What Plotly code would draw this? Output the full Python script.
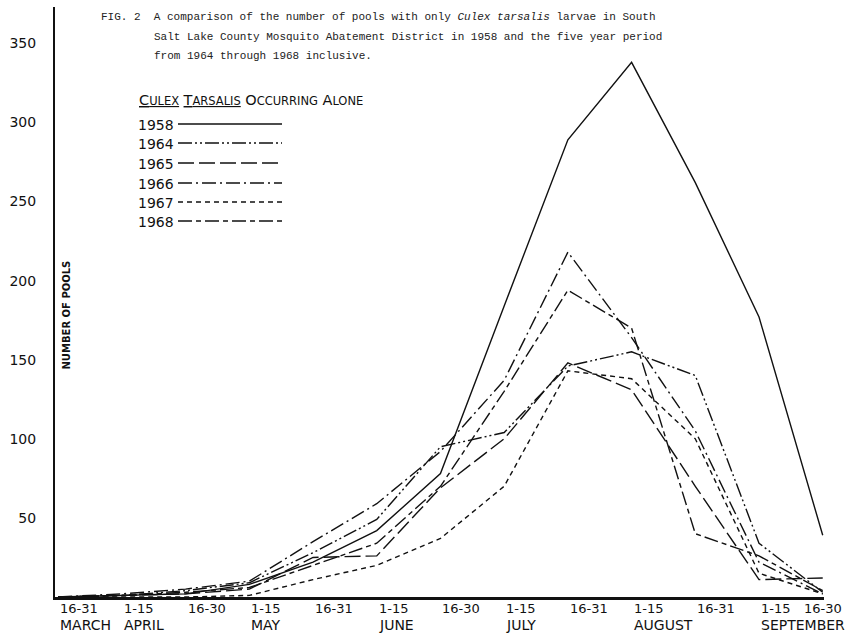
import plotly.graph_objects as go

# ---------------- data ----------------
periods = ["16-31", "1-15", "16-30", "1-15", "16-31", "1-15", "16-30",
           "1-15", "16-31", "1-15", "16-31", "1-15", "16-30"]
months = ["MARCH", "APRIL", "MAY", "JUNE", "JULY", "AUGUST", "SEPTEMBER"]
month_start_period = [0, 1, 3, 5, 7, 9, 11]

y_tick_values = [50, 100, 150, 200, 250, 300, 350]
y_tick_labels = ["50", "100", "150", "200", "250", "300", "350"]

years = ["1958", "1964", "1965", "1966", "1967", "1968"]
pools_1958 = [0, 1, 2, 8, 22, 42, 78, 184, 289, 338, 262, 177, 39]
pools_1964 = [0, 1, 4, 9, 28, 49, 95, 104, 146, 155, 140, 34, 3]
pools_1965 = [0, 1, 2, 5, 25, 26, 69, 100, 148, 131, 70, 11, 12]
pools_1966 = [0, 2, 5, 10, 35, 59, 92, 137, 218, 164, 105, 22, 2]
pools_1967 = [0, 0, 0, 1, 11, 20, 37, 70, 143, 138, 100, 15, 2]
pools_1968 = [0, 1, 3, 6, 20, 34, 70, 130, 194, 170, 40, 26, 4]

series = [pools_1958, pools_1964, pools_1965, pools_1966, pools_1967, pools_1968]
dashes = ["solid",
          "14px,3px,2px,3px,2px,3px",
          "16px,5px",
          "14px,4px,2px,4px",
          "5px,4px",
          "14px,4px,5px,4px"]

# ---------------- layout geometry ----------------
W, H = 862, 636
ML, MR, MT, MB = 55, 38, 7, 39
PW, PH = W - ML - MR, H - MT - MB


def px(x):
    return (x - ML) / PW


def py(y):
    return (H - MB - y) / PH


LETTER = "DejaVu Sans"
INK = "#111111"


def small_caps(word, big=14.5, small=11.5):
    return (f"<span style='font-size:{big}px'>{word[0]}</span>"
            f"<span style='font-size:{small}px'>{word[1:]}</span>")


fig = go.Figure()
xs = list(range(len(periods)))
for name, vals, dash in zip(years, series, dashes):
    fig.add_trace(go.Scatter(
        x=xs, y=vals, mode="lines", name=name, showlegend=False,
        line=dict(color=INK, width=1.4, dash=dash),
        cliponaxis=False, hoverinfo="skip",
    ))

annotations = []
# x period labels (left aligned at their point; last one centred)
for i, lab in enumerate(periods):
    annotations.append(dict(
        x=i, xref="x", y=0, yref="paper", yanchor="middle", yshift=-11,
        xanchor="center" if i == len(periods) - 1 else "left",
        text=lab, showarrow=False,
        font=dict(family=LETTER, size=13, color=INK),
    ))
# month labels
for m, idx in zip(months, month_start_period):
    annotations.append(dict(
        x=idx, xref="x", y=0, yref="paper", yanchor="middle", yshift=-28,
        xanchor="left", text=m, showarrow=False,
        font=dict(family=LETTER, size=14, color=INK),
    ))

# y axis title inside plot
annotations.append(dict(
    x=px(58), y=py(315), xref="paper", yref="paper",
    text="<b>NUMBER OF POOLS</b>", textangle=-90, showarrow=False,
    font=dict(family=LETTER, size=10, color=INK),
))

# figure caption (typewriter)
caption = [
    ("FIG. 2  A comparison of the number of pools with only <i>Culex tarsalis</i> larvae in South", 99, 17),
    ("Salt Lake County Mosquito Abatement District in 1958 and the five year period", 152, 37),
    ("from 1964 through 1968 inclusive.", 152, 56),
]
for txt, cx, cy in caption:
    annotations.append(dict(
        x=px(cx), y=py(cy), xref="paper", yref="paper",
        xanchor="left", yanchor="middle", text=txt, showarrow=False,
        font=dict(family="Liberation Mono", size=11, color="#222222"),
    ))

# legend title (small capitals, two words underlined)
legend_title = ("<u>" + small_caps("CULEX") + "</u> <u>" + small_caps("TARSALIS") + "</u> "
                + small_caps("OCCURRING") + " " + small_caps("ALONE"))
annotations.append(dict(
    x=px(137), y=py(100), xref="paper", yref="paper",
    xanchor="left", yanchor="middle",
    text=legend_title, showarrow=False,
    font=dict(family=LETTER, size=14, color=INK),
))

shapes = []
legend_y = [125, 144, 164, 184, 203, 222]
for name, dash, ly in zip(years, dashes, legend_y):
    annotations.append(dict(
        x=px(136), y=py(ly), xref="paper", yref="paper",
        xanchor="left", yanchor="middle", text=name, showarrow=False,
        font=dict(family=LETTER, size=14, color=INK),
    ))
    shapes.append(dict(
        type="line", xref="paper", yref="paper",
        x0=px(178), x1=px(282), y0=py(ly - 1), y1=py(ly - 1),
        line=dict(color=INK, width=1.4, dash=dash),
    ))

fig.update_layout(
    width=W, height=H,
    margin=dict(l=ML, r=MR, t=MT, b=MB),
    paper_bgcolor="white", plot_bgcolor="white",
    showlegend=False,
    annotations=annotations,
    shapes=shapes,
    xaxis=dict(
        range=[-0.05, 12.02], showline=True, linecolor=INK, linewidth=2.5,
        showticklabels=False, ticks="", showgrid=False, zeroline=False,
    ),
    yaxis=dict(
        range=[0, 373], showline=True, linecolor=INK, linewidth=2,
        tickvals=y_tick_values, ticktext=y_tick_labels, ticks="",
        ticklabelstandoff=14,
        tickfont=dict(family=LETTER, size=14, color=INK),
        showgrid=False, zeroline=False,
    ),
)

fig.write_html("out.html", config={"displayModeBar": False},
               post_script="document.body.style.margin='0';")
